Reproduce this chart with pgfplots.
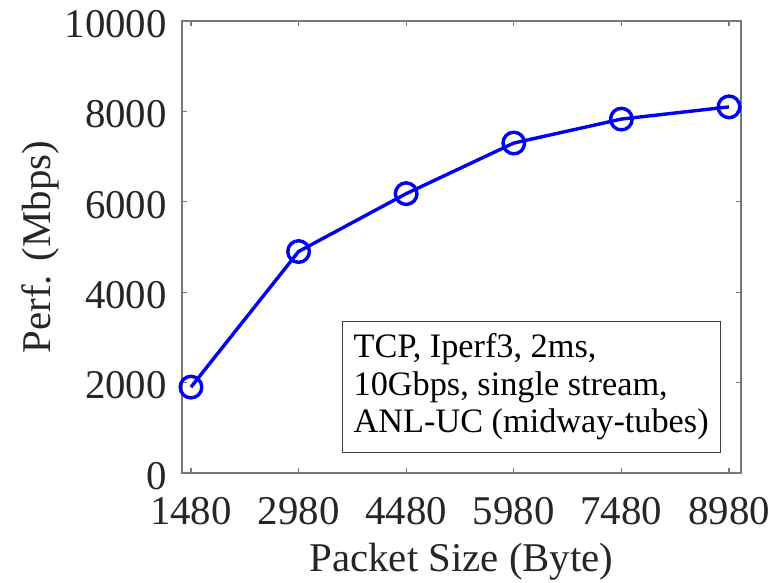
\documentclass[border=0pt]{standalone}
\usepackage{pgfplots}
\pgfplotsset{compat=1.18}
\usepackage{fontspec}
\setmainfont{Liberation Serif}
\definecolor{axgray}{RGB}{120,120,120}
\definecolor{txtgray}{RGB}{38,38,38}
\definecolor{mblue}{RGB}{0,0,245}
\begin{document}
\begin{tikzpicture}
\begin{axis}[
  width=559bp, height=452bp, scale only axis,
  xmin=1355, xmax=9147, ymin=0, ymax=10000,
  xtick={1480,2980,4480,5980,7480,8980},
  ytick={0,2000,4000,6000,8000,10000},
  tick align=inside, major tick length=5bp,
  axis line style={draw=axgray, line width=1.2bp},
  every tick/.style={draw=axgray, line width=1.2bp},
  scaled ticks=false,
  /pgf/number format/1000 sep={},
  /pgf/number format/assume math mode=true,
  tick label style={font=\fontsize{41}{44}\selectfont, text=txtgray, inner sep=0pt},
  xticklabel style={anchor=north, yshift=-24bp},
  yticklabel style={anchor=east, xshift=-15bp, yshift=-3bp},
  label style={font=\fontsize{41}{44}\selectfont, text=txtgray, inner sep=0pt},
  xlabel={Packet Size (Byte)}, ylabel={Perf. (Mbps)},
  xlabel style={at={(axis description cs:0.5,-0.219)}, anchor=base},
  ylabel style={at={(axis description cs:-0.2361,0.5)}, anchor=base, rotate=0},
]
\addplot[color=mblue, line width=3.4bp, mark=o, mark size=10.8bp, mark options={line width=3.4bp}]
  coordinates {(1480,1900) (2980,4900) (4480,6180) (5980,7300) (7480,7830) (8980,8100)};
\node[draw=black!75, line width=1bp, fill=white, anchor=south west, align=left,
  minimum width=378bp, minimum height=131bp, inner xsep=10bp, inner ysep=0bp,
  font=\fontsize{34.4}{38}\selectfont, text=black]
  at (rel axis cs:0.2857,0.045)
  {TCP, Iperf3, 2ms,\\10Gbps, single stream,\\ANL-UC (midway-tubes)};
\coordinate (bl) at (rel axis cs:0,0);
\coordinate (tr) at (rel axis cs:1,1);
\end{axis}
\path ([shift={(-182bp,-110bp)}]bl) rectangle ([shift={(41bp,21bp)}]tr);
\end{tikzpicture}
\end{document}
